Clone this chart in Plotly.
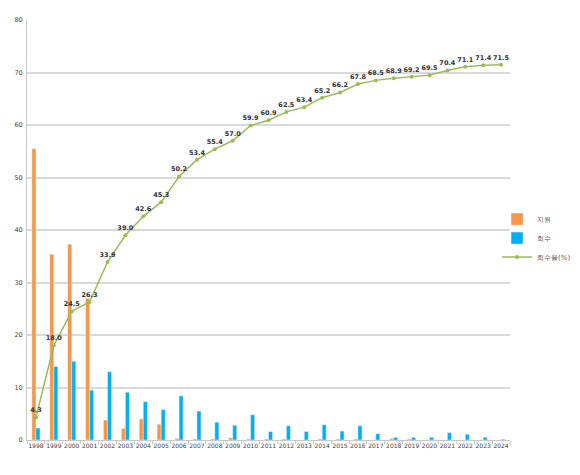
import plotly.graph_objects as go

years = [str(y) for y in range(1998, 2025)]
support = [55.5, 35.4, 37.3, 27.0, 3.8, 2.2, 4.0, 3.0, 0.3, 0.2, 0.2, 0.4, 0.2, 0.2,
           0.2, 0.0, 0.2, 0.2, 0.2, 0.0, 0.3, 0.2, 0.0, 0.0, 0.0, 0.0, 0.0]
recovery = [2.3, 14.0, 15.0, 9.5, 13.0, 9.1, 7.3, 5.8, 8.4, 5.5, 3.4, 2.8, 4.8, 1.6,
            2.7, 1.6, 2.9, 1.7, 2.7, 1.2, 0.5, 0.5, 0.5, 1.4, 1.1, 0.5, 0.15]
rate = [4.3, 18.0, 24.5, 26.3, 33.9, 39.0, 42.6, 45.3, 50.2, 53.4, 55.4, 57.0, 59.9,
        60.9, 62.5, 63.4, 65.2, 66.2, 67.8, 68.5, 68.9, 69.2, 69.5, 70.4, 71.1, 71.4, 71.5]
y_ticks = [0, 10, 20, 30, 40, 50, 60, 70, 80]

fig = go.Figure()
fig.add_trace(go.Bar(x=years, y=support, name="지원", marker_color="#F79646"))
fig.add_trace(go.Bar(x=years, y=recovery, name="회수", marker_color="#00B0F0"))
fig.add_trace(go.Scatter(
    x=years, y=rate, name="회수율(%)", mode="lines+markers+text",
    line=dict(color="#9BBB59", width=1.5),
    marker=dict(color="#9BBB59", size=4),
    text=[f"{v:.1f}" for v in rate], textposition="top center",
    textfont=dict(size=6.5, color="#333333", family="DejaVu Sans", weight="bold"),
))

fig.update_layout(
    width=572, height=467,
    margin=dict(l=19, r=70, t=12, b=35, autoexpand=False),
    paper_bgcolor="white", plot_bgcolor="white",
    barmode="group", bargap=0.55, bargroupgap=0.0,
    font=dict(family="DejaVu Sans", size=7, color="#444444"),
    legend=dict(xref="container", yref="container", x=0.855, y=0.579,
                xanchor="left", yanchor="top", itemwidth=30,
                bgcolor="rgba(0,0,0,0)",
                font=dict(size=7, color="#555555"), tracegroupgap=0),
    showlegend=True,
)
fig.update_xaxes(type="category", range=[-0.5, 26.5], autorange=False, automargin=False,
                 showline=True, linecolor="#C8C8C8", linewidth=1,
                 ticks="outside", tickson="boundaries", ticklen=3, tickcolor="#C8C8C8",
                 tickfont=dict(size=6, color="#444444"), tickangle=0, showgrid=False)
fig.update_yaxes(range=[0, 80], autorange=False, automargin=False, tickvals=y_ticks,
                 showgrid=True, gridcolor="#D9D9D9", ticklabelstandoff=2,
                 gridwidth=1.5, showline=True, linecolor="#C8C8C8", zeroline=False,
                 tickfont=dict(size=6.5, color="#444444"))

fig.write_html("out.html")
